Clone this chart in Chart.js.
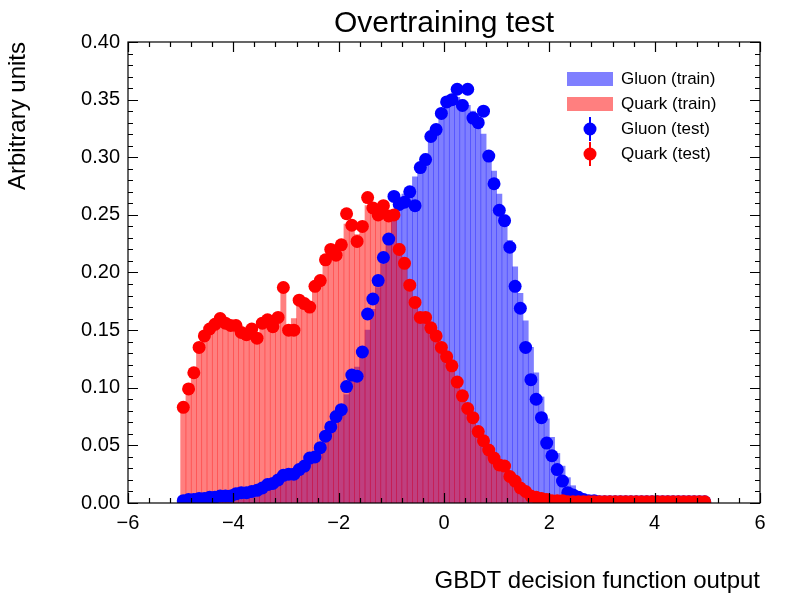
<!DOCTYPE html>
<html><head><meta charset="utf-8">
<script src="https://cdn.jsdelivr.net/npm/chart.js@4"></script>
<style>body{margin:0;background:#fff}#wrap{width:800px;height:600px}</style>
</head><body><div id="wrap"><canvas id="c" width="800" height="600"></canvas></div>
<script>
// bin centres -4.95 .. 4.95, width 0.1
const binCenters = [];
for (let i = 0; i < 100; i++) binCenters.push(Math.round((-4.95 + i * 0.1) * 100) / 100);

const gluonTrain = [
  0.002,0.002,0.003,0.003,0.004,0.004,0.005,0.005,0.006,0.006,
  0.007,0.008,0.009,0.010,0.011,0.012,0.014,0.016,0.018,0.021,
  0.024,0.026,0.029,0.033,0.037,0.042,0.048,0.055,0.063,0.072,
  0.082,0.094,0.106,0.118,0.133,0.150,0.168,0.187,0.207,0.226,
  0.245,0.262,0.268,0.274,0.283,0.292,0.303,0.314,0.325,0.336,
  0.344,0.350,0.352,0.350,0.345,0.340,0.331,0.320,0.305,0.288,
  0.268,0.250,0.228,0.205,0.182,0.158,0.135,0.113,0.092,0.073,
  0.057,0.043,0.032,0.022,0.015,0.010,0.007,0.005,0.003,0.002,
  0.002,0.001,0.001,0.001,0.001,0.001,0.001,0.001,0.001,0.001,
  0.001,0.001,0.001,0.001,0.001,0.001,0.001,0.001,0.001,0.001
];
const quarkTrain = [
  0.078,0.098,0.115,0.133,0.144,0.150,0.155,0.157,0.156,0.155,
  0.153,0.150,0.148,0.150,0.147,0.153,0.156,0.155,0.159,0.187,
  0.153,0.160,0.176,0.174,0.171,0.185,0.195,0.208,0.217,0.218,
  0.226,0.242,0.240,0.233,0.240,0.258,0.257,0.254,0.256,0.252,
  0.246,0.225,0.206,0.190,0.175,0.165,0.158,0.150,0.142,0.133,
  0.124,0.115,0.105,0.094,0.084,0.074,0.064,0.055,0.047,0.040,
  0.034,0.028,0.023,0.018,0.014,0.011,0.008,0.006,0.004,0.003,
  0.002,0.002,0.002,0.001,0.001,0.001,0.001,0.001,0.001,0.001,
  0.001,0.001,0.001,0.001,0.001,0.001,0.001,0.001,0.001,0.001,
  0.001,0.001,0.001,0.001,0.001,0.001,0.001,0.001,0.001,0.001
];
const gluonTest = [
  0.002,0.003,0.003,0.004,0.004,0.005,0.005,0.006,0.006,0.006,
  0.008,0.009,0.009,0.010,0.011,0.013,0.016,0.017,0.020,0.024,
  0.025,0.025,0.029,0.032,0.039,0.040,0.048,0.058,0.066,0.075,
  0.081,0.101,0.111,0.110,0.131,0.164,0.177,0.193,0.213,0.229,
  0.266,0.259,0.261,0.270,0.258,0.291,0.298,0.318,0.324,0.338,
  0.348,0.350,0.359,0.345,0.359,0.334,0.330,0.340,0.301,0.277,
  0.254,0.245,0.222,0.188,0.169,0.135,0.107,0.090,0.074,0.052,
  0.041,0.029,0.019,0.009,0.007,0.005,0.003,0.002,0.002,0.001,
  0.001,0.001,0.001,0.001,0.001,0.001,0.001,0.001,0.001,0.001,
  0.001,0.001,0.001,0.001,0.001,0.001,0.001,0.001,0.001,0.001
];
const quarkTest = [
  0.083,0.099,0.113,0.135,0.145,0.151,0.155,0.160,0.156,0.154,
  0.154,0.148,0.146,0.151,0.143,0.156,0.159,0.153,0.161,0.187,
  0.150,0.150,0.176,0.173,0.170,0.188,0.193,0.211,0.220,0.215,
  0.224,0.251,0.241,0.227,0.240,0.265,0.256,0.250,0.258,0.249,
  0.250,0.220,0.208,0.189,0.174,0.161,0.161,0.152,0.145,0.135,
  0.127,0.119,0.105,0.093,0.082,0.074,0.062,0.054,0.046,0.039,
  0.033,0.032,0.023,0.019,0.013,0.010,0.006,0.005,0.004,0.003,
  0.002,0.002,0.002,0.001,0.001,0.001,0.001,0.001,0.001,0.001,
  0.001,0.001,0.001,0.001,0.001,0.001,0.001,0.001,0.001,0.001,
  0.001,0.001,0.001,0.001,0.001,0.001,0.001,0.001,0.001,0.001
];
const xTicks = [-6, -4, -2, 0, 2, 4, 6];
const yTicks = [0, 0.05, 0.1, 0.15, 0.2, 0.25, 0.3, 0.35, 0.4];

const pts = arr => arr.map((v, i) => ({ x: binCenters[i], y: v }));
const FONT = "'Liberation Sans', Arial, sans-serif";

const decor = {
  id: 'decor',
  afterDraw(chart) {
    const ctx = chart.ctx, a = chart.chartArea;
    const xs = chart.scales.x, ys = chart.scales.y;
    ctx.save();
    ctx.strokeStyle = '#000';
    ctx.lineWidth = 1.2;
    ctx.strokeRect(a.left, a.top, a.right - a.left, a.bottom - a.top);
    // inward ticks on all sides
    for (let v = -6; v <= 6.001; v += 0.4) {
      const major = xTicks.some(t => Math.abs(t - v) < 1e-6);
      const L = major ? 10 : 5, px = Math.round(xs.getPixelForValue(v)) + 0.5;
      ctx.beginPath();
      ctx.moveTo(px, a.bottom); ctx.lineTo(px, a.bottom - L);
      ctx.moveTo(px, a.top); ctx.lineTo(px, a.top + L);
      ctx.stroke();
    }
    for (let v = 0; v <= 0.4001; v += 0.01) {
      const major = yTicks.some(t => Math.abs(t - v) < 1e-6);
      const L = major ? 10 : 5, py = Math.round(ys.getPixelForValue(v)) + 0.5;
      ctx.beginPath();
      ctx.moveTo(a.left, py); ctx.lineTo(a.left + L, py);
      ctx.moveTo(a.right, py); ctx.lineTo(a.right - L, py);
      ctx.stroke();
    }
    // title
    ctx.fillStyle = '#000';
    ctx.font = '30px ' + FONT;
    ctx.textAlign = 'center';
    ctx.textBaseline = 'bottom';
    ctx.fillText('Overtraining test', (a.left + a.right) / 2, a.top - 3);
    // legend
    const items = [
      ['Gluon (train)', 'rgba(0,0,255,0.5)', 'box'],
      ['Quark (train)', 'rgba(255,0,0,0.5)', 'box'],
      ['Gluon (test)', '#0000ff', 'pt'],
      ['Quark (test)', '#ff0000', 'pt']
    ];
    ctx.font = '17px ' + FONT;
    ctx.textAlign = 'left';
    ctx.textBaseline = 'middle';
    items.forEach((it, i) => {
      const y = 79 + i * 25;
      if (it[2] === 'box') {
        ctx.fillStyle = it[1];
        ctx.fillRect(567, y - 7, 46, 14);
      } else {
        ctx.strokeStyle = it[1];
        ctx.lineWidth = 2;
        ctx.beginPath(); ctx.moveTo(590, y - 12); ctx.lineTo(590, y + 12); ctx.stroke();
        ctx.fillStyle = it[1];
        ctx.beginPath(); ctx.arc(590, y, 6.5, 0, Math.PI * 2); ctx.fill();
      }
      ctx.fillStyle = '#000';
      ctx.fillText(it[0], 621, y);
    });
    ctx.restore();
  }
};

new Chart(document.getElementById('c').getContext('2d'), {
  type: 'bar',
  data: {
    datasets: [
      { type: 'bar', label: 'Gluon (train)', data: pts(gluonTrain), backgroundColor: 'rgba(0,0,255,0.5)',
        barPercentage: 1, categoryPercentage: 1, borderWidth: 0, order: 3 },
      { type: 'bar', label: 'Quark (train)', data: pts(quarkTrain), backgroundColor: 'rgba(255,0,0,0.5)',
        barPercentage: 1, categoryPercentage: 1, borderWidth: 0, order: 2, grouped: false },
      { type: 'scatter', label: 'Gluon (test)', data: pts(gluonTest), backgroundColor: '#0000ff',
        borderWidth: 0, pointRadius: 6.5, order: 1 },
      { type: 'scatter', label: 'Quark (test)', data: pts(quarkTest), backgroundColor: '#ff0000',
        borderWidth: 0, pointRadius: 6.5, order: 0 }
    ]
  },
  options: {
    responsive: false,
    animation: false,
    layout: { padding: { top: 42, right: 40, left: 0, bottom: 0 } },
    scales: {
      x: {
        type: 'linear', min: -6, max: 6, offset: false,
        afterFit: s => { s.height = 97; },
        afterBuildTicks: s => { s.ticks = xTicks.map(v => ({ value: v })); },
        grid: { display: false, drawTicks: false },
        border: { display: false },
        ticks: { color: '#000', font: { size: 20, family: FONT }, padding: 8, maxRotation: 0,
                 callback: v => v < 0 ? '\u2212' + Math.abs(v) : String(v) },
        title: { display: true, text: 'GBDT decision function output', align: 'end', color: '#000',
                 font: { size: 24, family: FONT }, padding: { top: 12 } }
      },
      y: {
        min: 0, max: 0.4,
        afterFit: s => { s.width = 128; },
        afterBuildTicks: s => { s.ticks = yTicks.map(v => ({ value: v })); },
        grid: { display: false, drawTicks: false },
        border: { display: false },
        ticks: { color: '#000', font: { size: 20, family: FONT }, padding: 8,
                 callback: v => v.toFixed(2) },
        title: { display: true, text: 'Arbitrary units', align: 'end', color: '#000',
                 font: { size: 24, family: FONT }, padding: { bottom: 4 } }
      }
    },
    plugins: { legend: { display: false }, tooltip: { enabled: false } }
  },
  plugins: [decor]
});
</script>
</body></html>
